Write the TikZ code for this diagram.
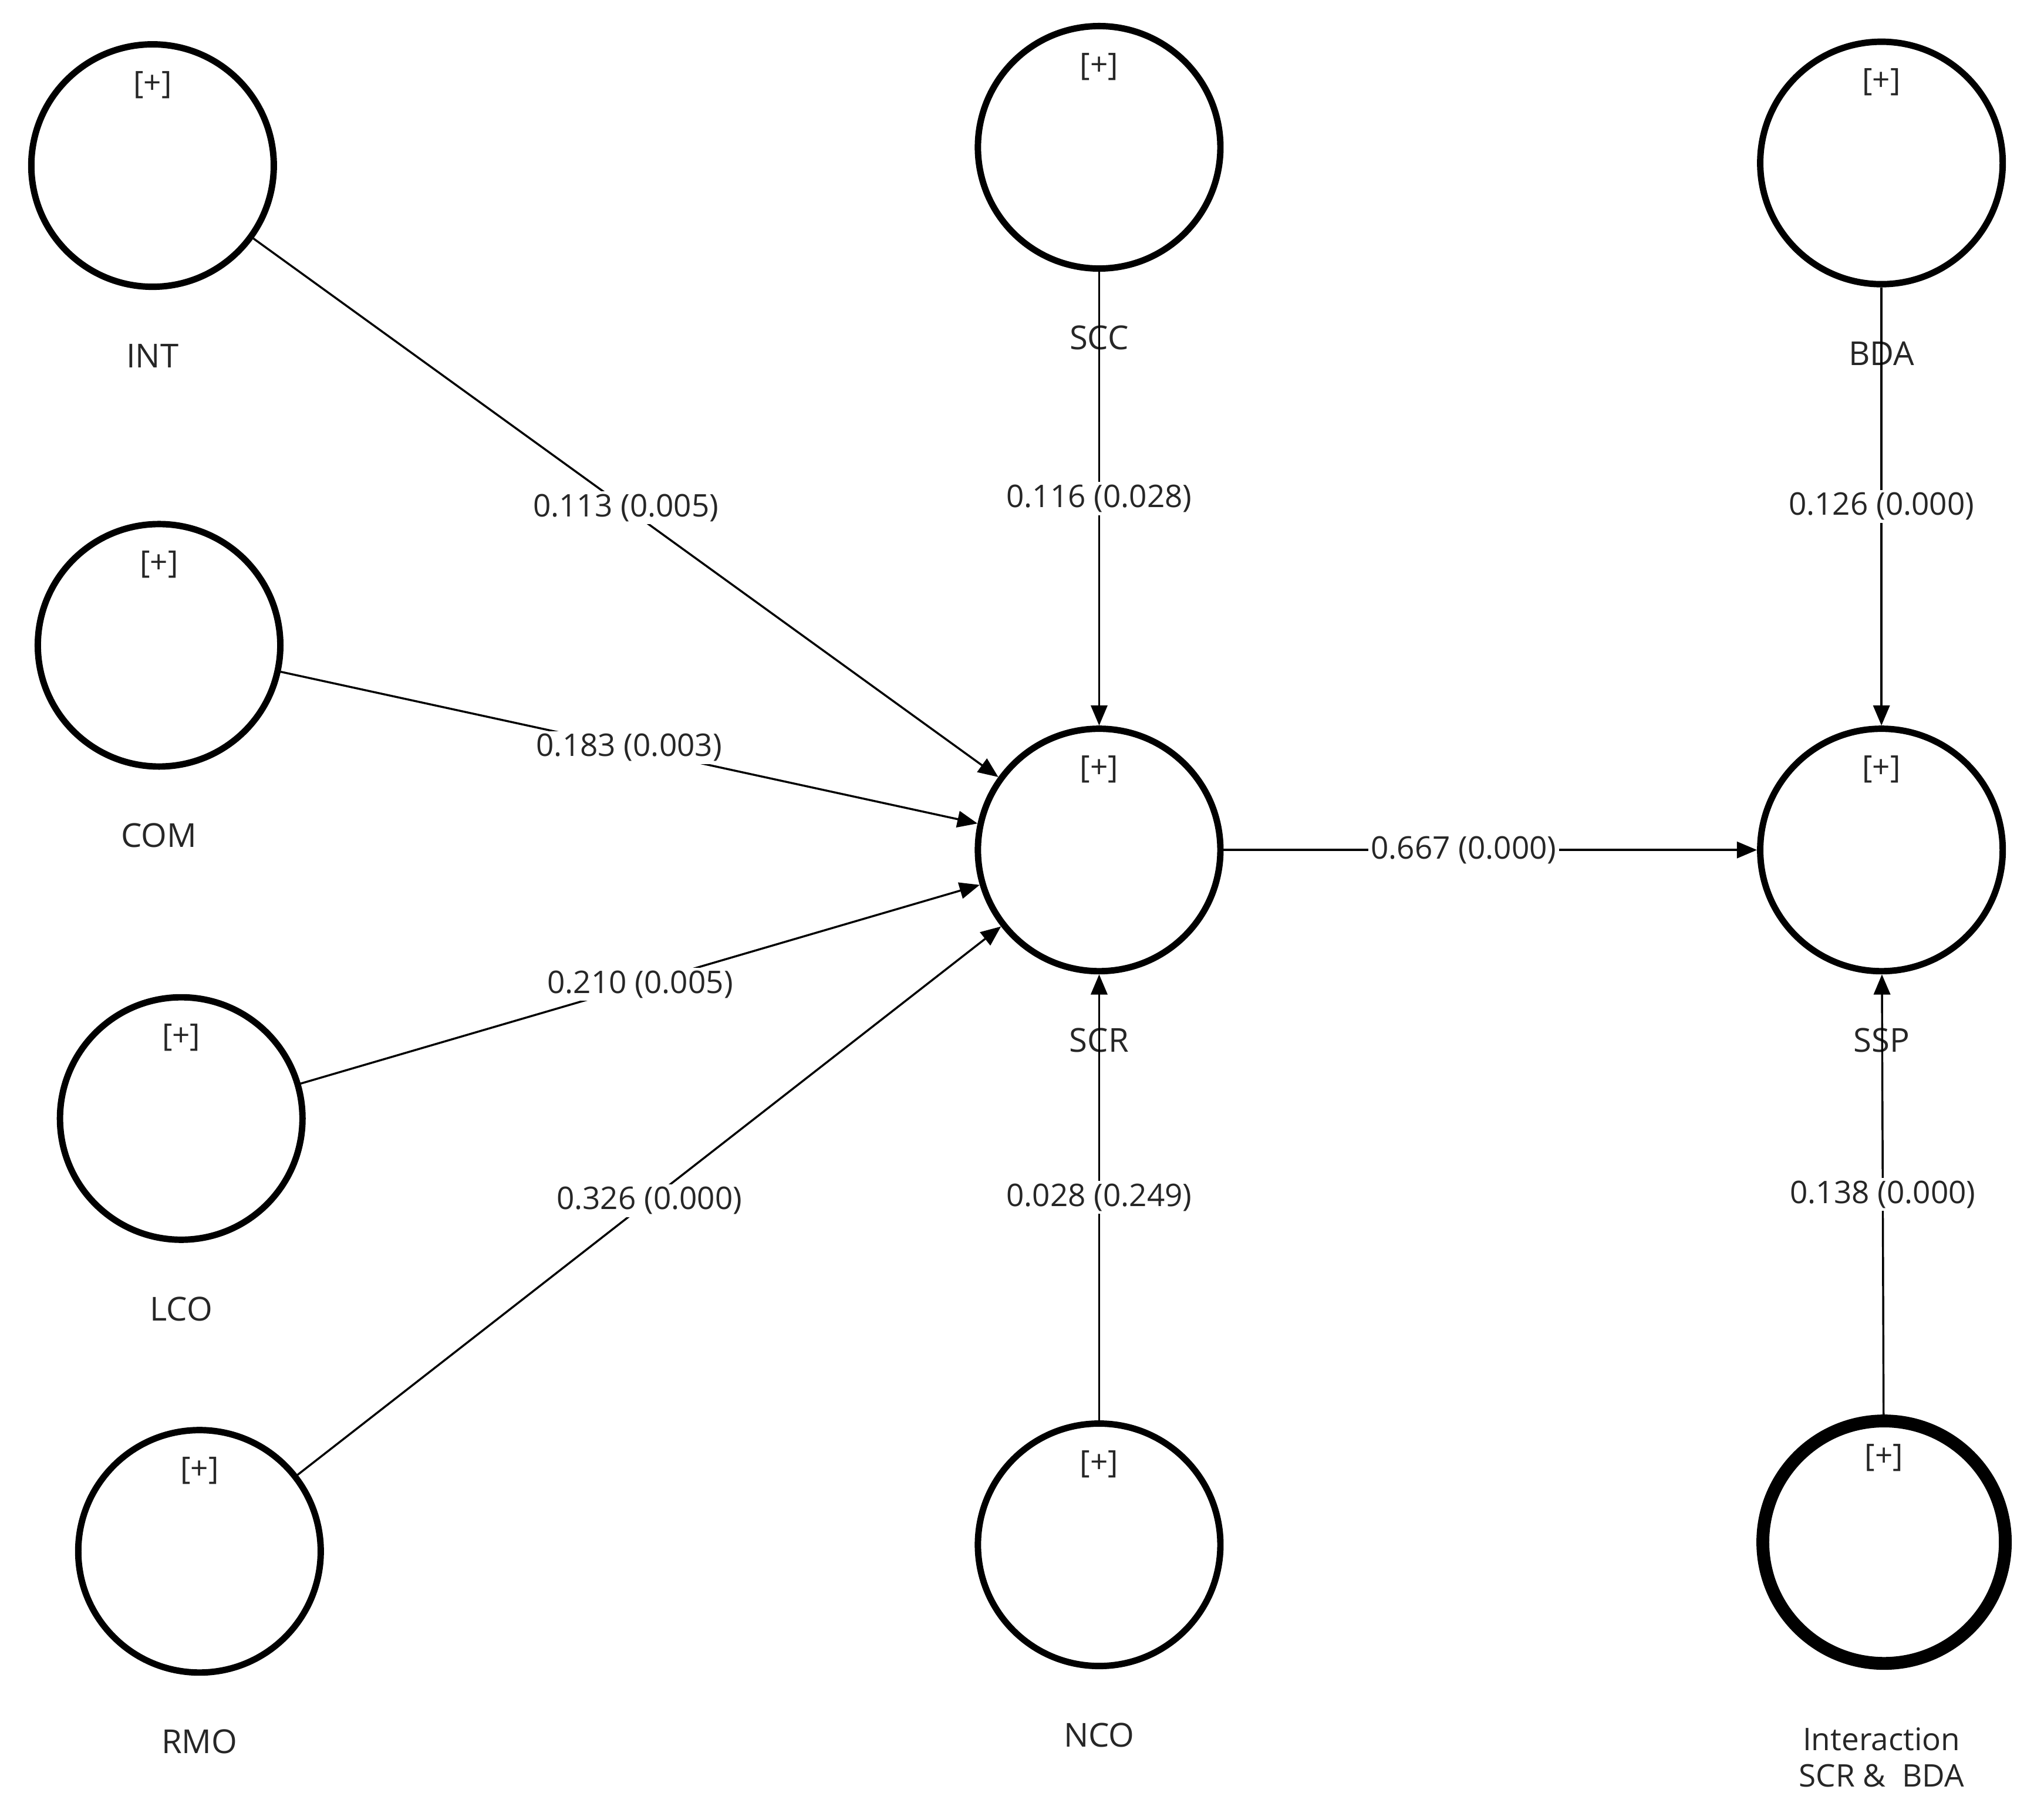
\documentclass[tikz,border=0pt]{standalone}
\usepackage{fontspec}
\setmainfont{Open Sans}
\usetikzlibrary{arrows.meta}
\begin{document}
\begin{tikzpicture}[x=0.05cm,y=-0.05cm,
  lv/.style={circle,draw,line width=7pt,minimum size=9.3cm,inner sep=0pt},
  lvt/.style={lv,line width=14pt},
  plus/.style={font=\fontsize{34}{40}\selectfont,text=black!85},
  lab/.style={font=\fontsize{36}{44}\selectfont,text=black!85,align=center},
  path/.style={line width=2.2pt,-{Triangle[length=22pt,width=18pt]}},
  el/.style={font=\fontsize{34}{40}\selectfont,fill=white,inner sep=3pt,text=black!85}]
\useasboundingbox (0,0) rectangle (1560,1396);
\foreach \n/\x/\y/\t in {INT/117/127/INT, COM/122/495/COM, LCO/139/858/LCO, RMO/153/1190/RMO,
  SCC/843/113/SCC, SCR/843/652/SCR, NCO/843/1185/NCO, BDA/1443/125/BDA, SSP/1443/652/SSP}{
  \node[lv] (\n) at (\x,\y) {};
  \node[plus] (\n p) at (\x,\y-62) {[+]};
  \node[lab] (\n l) at (\x,\y+146) {\t};
}
\node[lvt] (IA) at (1445,1183) {};
\node[plus] (IA p) at (1445,1118) {[+]};
\node[lab,font=\fontsize{34}{40}\selectfont] (IA l) at (1443,1348) {Interaction\\SCR \&\ \ BDA};
\draw[path] (INT) -- node[el]{0.113 (0.005)} (SCR);
\draw[path] (COM) -- node[el]{0.183 (0.003)} (SCR);
\draw[path] (LCO) -- node[el]{0.210 (0.005)} (SCR);
\draw[path] (RMO) -- node[el]{0.326 (0.000)} (SCR);
\draw[path] (SCC) -- node[el]{0.116 (0.028)} (SCR);
\draw[path] (NCO) -- node[el]{0.028 (0.249)} (SCR);
\draw[path] (SCR) -- node[el,pos=0.45]{0.667 (0.000)} (SSP);
\draw[path] (BDA) -- node[el]{0.126 (0.000)} (SSP);
\draw[path] (IA) -- node[el]{0.138 (0.000)} (SSP);
\end{tikzpicture}
\end{document}
